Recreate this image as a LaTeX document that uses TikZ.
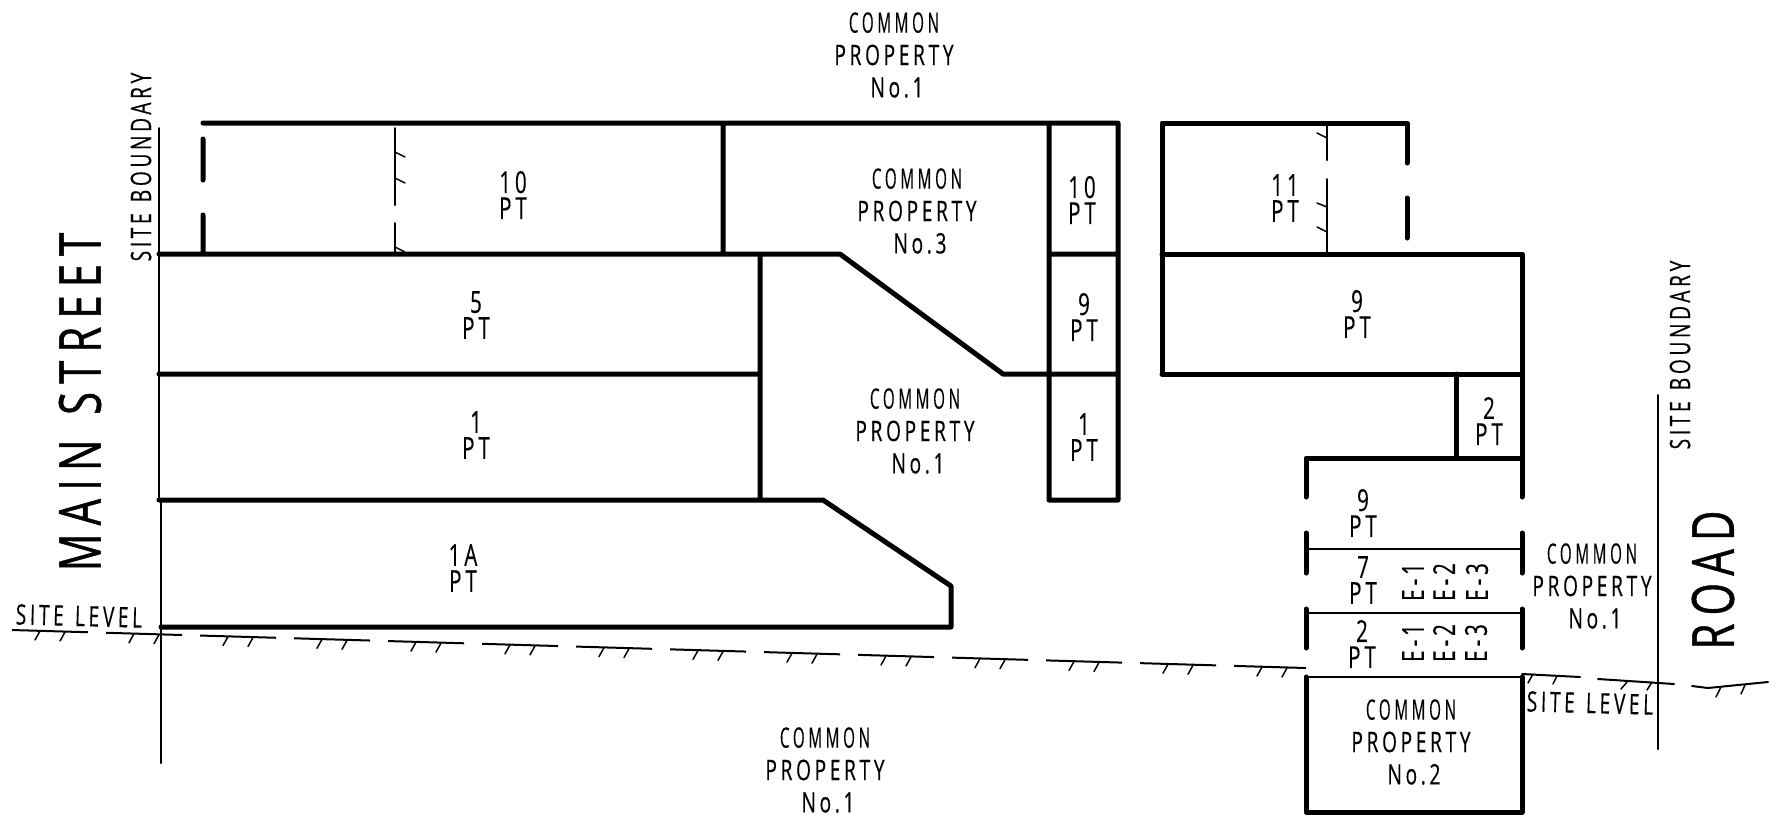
\documentclass[tikz,border=0pt]{standalone}
\usepackage{fontspec}
\newfontfamily\cadfont{Open Sans}[FakeStretch=0.68,LetterSpace=13,WordSpace=1.3,FakeBold=0.3]
\newfontfamily\cadtight{Open Sans}[FakeStretch=0.54,LetterSpace=13,FakeBold=0.3]
\newfontfamily\cadwide{Open Sans}[FakeStretch=0.72,LetterSpace=14,WordSpace=1.3,FakeBold=0.8]
\newcommand{\cadsmall}{\cadfont\fontsize{8}{9.2}\selectfont}
\newcommand{\cadtag}{\cadfont\fontsize{8.6}{7.4}\selectfont}
\newcommand{\cadbig}{\cadwide\fontsize{16.5}{18}\selectfont}
\newcommand{\propname}[1]{{\cadtight COMMON}\\PROPERTY\\\hspace{0.06cm}No.#1}
\tikzset{wall/.style={line width=0.05cm,line cap=round,line join=round},
  thin wall/.style={line width=0.02cm,line cap=round},
  hatch/.style={line width=0.015cm,line cap=round},
  prop node/.style={inner sep=0pt,align=center,font=\cadsmall},
  tag node/.style={inner sep=0pt,align=center,font=\cadtag},
  side node/.style={inner sep=0pt,font=\cadsmall},
  code node/.style={inner sep=0pt,font=\cadtag,rotate=90},
  street node/.style={inner sep=0pt,font=\cadbig,rotate=90}}

\begin{document}
\begin{tikzpicture}[x=0.01cm,y=-0.01cm]
            \useasboundingbox (0,0) rectangle (1778,814);

            \node[prop node] (cp1top) at (894,55) {\propname{1}};
            \node[prop node] (cp3) at (917,211) {\propname{3}};
            \node[prop node] (cp1mid) at (915,431) {\propname{1}};
            \node[prop node] (cp1low) at (825,770) {\propname{1}};
            \node[prop node] (cp1right) at (1592,586) {\propname{1}};
            \node[prop node] (cp2) at (1411,742) {\propname{2}};

            \node[tag node] (pt10) at (513,195) {10\\PT};
            \node[tag node] (pt5) at (476,315) {5\\PT};
            \node[tag node] (pt1) at (476,435) {1\\PT};
            \node[tag node] (pt1a) at (463,568) {1A\\PT};
            \node[tag node] (pt10b) at (1082,200) {10\\PT};
            \node[tag node] (pt9b) at (1084,317) {9\\PT};
            \node[tag node] (pt1b) at (1084,437) {1\\PT};
            \node[tag node] (pt11) at (1285,198) {11\\PT};
            \node[tag node] (pt9c) at (1357,314) {9\\PT};
            \node[tag node] (pt2c) at (1489,421) {2\\PT};
            \node[tag node] (pt9d) at (1363,513) {9\\PT};
            \node[tag node] (pt7d) at (1363,580) {7\\PT};
            \node[tag node] (pt2d) at (1362,644) {2\\PT};

            \node[code node] (e1a) at (1413,582) {E-1};
            \node[code node] (e2a) at (1444,582) {E-2};
            \node[code node] (e3a) at (1477,582) {E-3};
            \node[code node] (e1b) at (1413,643) {E-1};
            \node[code node] (e2b) at (1444,643) {E-2};
            \node[code node] (e3b) at (1476,643) {E-3};

            \node[side node,rotate=-1.5] (levela) at (79,616) {SITE LEVEL};
            \node[side node,rotate=-1.5] (levelb) at (1590,703) {SITE LEVEL};
            \node[side node,rotate=90] (bounda) at (141,167) {SITE BOUNDARY};
            \node[side node,rotate=90] (boundb) at (1680,355) {SITE BOUNDARY};
            \node[street node] (main) at (80,402) {MAIN STREET};
            \node[street node] (road) at (1713,580) {ROAD};

            % left block
            \path[draw, wall]
            (203,123) -- (1118,123)
            (203,139) -- (203,180)
            (203,215) -- (203,254)
            (159,254) -- (840,254) -- (1003,374) -- (1118,374)
            (159,374) -- (760,374)
            (159,500) -- (823,500) -- (951,586) -- (951,627) -- (161,627)
            (723,123) -- (723,254)
            (760,254) -- (760,500)
            (1049,123) -- (1049,500) -- (1118,500) -- (1118,123)
            (1049,254) -- (1118,254);

            % right block
            \path[draw, wall]
            (1162,374) -- (1162,123) -- (1407,123) -- (1407,163)
            (1407,198) -- (1407,238)
            (1162,254) -- (1522,254) -- (1522,497)
            (1162,374) -- (1522,374)
            (1456,374) -- (1456,458)
            (1306,497) -- (1306,458) -- (1522,458)
            (1306,533) -- (1306,573)
            (1306,609) -- (1306,648)
            (1522,533) -- (1522,573)
            (1522,609) -- (1522,648)
            (1306,677) -- (1306,812) -- (1522,812) -- (1522,677);

            \path[draw, thin wall]
            (159,128) -- (159,500)
            (161,500) -- (161,763)
            (1658,395) -- (1658,749)
            (395,128) -- (395,205)
            (395,223) -- (395,254)
            (1327,123) -- (1327,160)
            (1327,179) -- (1327,254)
            (1306,549) -- (1522,549)
            (1306,613) -- (1522,613)
            (1306,677) -- (1522,677);

            \path[draw, hatch]
            (395,152) -- (405,157)
            (395,178) -- (405,183)
            (395,247) -- (405,252)
            (1327,138) -- (1317,133)
            (1327,207) -- (1317,203)
            (1327,232) -- (1317,227);

            % site level
            \draw[thin wall, line cap=butt, dash pattern=on 0.76cm off 0.18cm] (12,630) -- (1306,668);
            \foreach \k in {0,...,13} {
              \draw[hatch] ({40+94*\k},{631+2.77*\k}) -- +(-5,9);
              \draw[hatch] ({65+94*\k},{632+2.77*\k}) -- +(-5,9);
            }
            \path[draw, thin wall]
            (1522,674) -- (1580,677)
            (1598,679) -- (1674,684)
            (1692,686) -- (1708,688) -- (1768,682);
            \path[draw, hatch]
            (1533,674) -- (1528,683)
            (1557,676) -- (1553,684)
            (1627,682) -- (1621,689)
            (1652,682) -- (1647,690)
            (1721,687) -- (1716,697)
            (1745,685) -- (1741,694);
        \end{tikzpicture}
\end{document}
